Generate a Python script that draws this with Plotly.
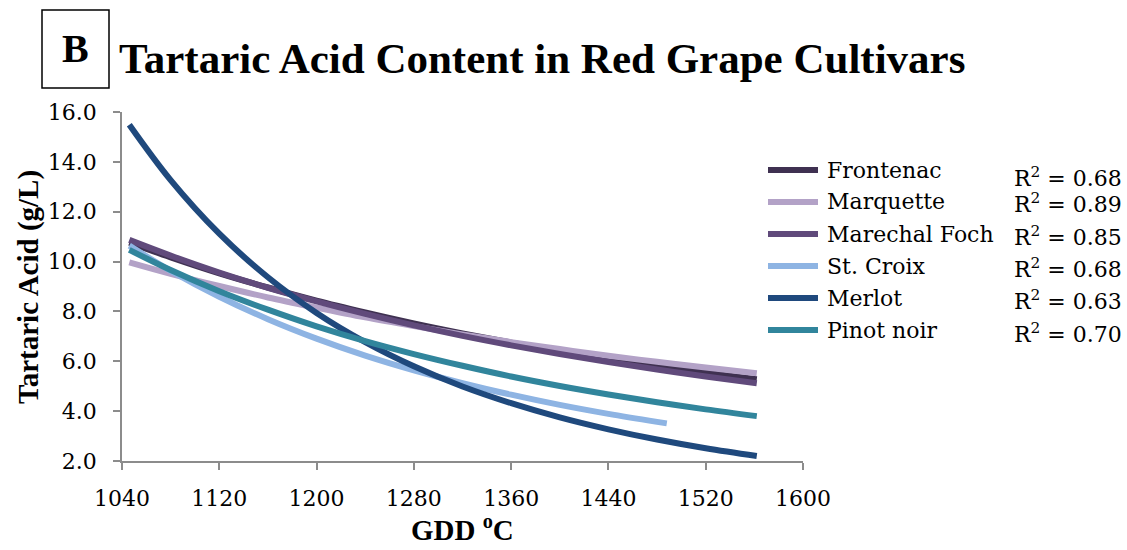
import plotly.graph_objects as go

# ---- data ----
gdd = [1046, 1080, 1120, 1160, 1200, 1240, 1280, 1320, 1360, 1400, 1440, 1480, 1520, 1562]
gdd_stcroix = [1046, 1080, 1120, 1160, 1200, 1240, 1280, 1320, 1360, 1400, 1440, 1480, 1488]

frontenac = [10.76, 10.17, 9.53, 8.96, 8.43, 7.96, 7.52, 7.12, 6.75, 6.41, 6.10, 5.81, 5.54, 5.28]
marquette = [9.97, 9.51, 9.02, 8.56, 8.15, 7.76, 7.41, 7.08, 6.77, 6.49, 6.22, 5.98, 5.75, 5.52]
marechal_foch = [10.87, 10.24, 9.56, 8.95, 8.40, 7.90, 7.44, 7.02, 6.64, 6.29, 5.97, 5.67, 5.39, 5.12]
st_croix = [10.64, 9.63, 8.59, 7.69, 6.91, 6.23, 5.64, 5.12, 4.66, 4.25, 3.89, 3.57, 3.51]
merlot = [15.49, 13.27, 11.12, 9.37, 7.94, 6.77, 5.80, 4.99, 4.32, 3.75, 3.27, 2.86, 2.51, 2.20]
pinot_noir = [10.47, 9.66, 8.81, 8.07, 7.40, 6.81, 6.29, 5.82, 5.39, 5.01, 4.67, 4.36, 4.07, 3.80]

names = ["Frontenac", "Marquette", "Marechal Foch", "St. Croix", "Merlot", "Pinot noir"]
r2_values = ["0.68", "0.89", "0.85", "0.68", "0.63", "0.70"]
y_ticks = [2, 4, 6, 8, 10, 12, 14, 16]
x_ticks = [1040, 1120, 1200, 1280, 1360, 1440, 1520, 1600]

series_x = [gdd, gdd, gdd, gdd_stcroix, gdd, gdd]
series_y = [frontenac, marquette, marechal_foch, st_croix, merlot, pinot_noir]
colors = ["#3F3151", "#B3A2C7", "#604A7B", "#8EB4E3", "#1F497D", "#31859C"]

# ---- layout geometry (pixels) ----
W, H = 1127, 550
L, R, T, B = 122, 324, 112, 89
PW, PH = W - L - R, H - T - B


def px(x):
    return (x - L) / PW


def py(y):
    return 1 - (y - T) / PH


fig = go.Figure()
for xs, ys, c, n in zip(series_x, series_y, colors, names):
    fig.add_trace(go.Scatter(x=xs, y=ys, mode="lines", name=n,
                             line=dict(color=c, width=6, shape="spline"),
                             showlegend=False))

tickfont = dict(family="DejaVu Serif", size=22, color="black")
axcol = "#8C8C8C"
fig.update_xaxes(range=[1040, 1600], tickvals=x_ticks, ticktext=[str(v) for v in x_ticks],
                 showline=True, linecolor=axcol, linewidth=1.5, ticks="outside",
                 ticklen=7, tickwidth=1.5, tickcolor=axcol, showgrid=False, zeroline=False,
                 tickfont=tickfont, ticklabelstandoff=10)
fig.update_yaxes(range=[2, 16], tickvals=y_ticks, ticktext=[f"{v:.1f}" for v in y_ticks],
                 showline=True, linecolor=axcol, linewidth=1.5, ticks="outside",
                 ticklen=7, tickwidth=1.5, tickcolor=axcol, showgrid=False, zeroline=False,
                 tickfont=tickfont, ticklabelstandoff=12)

ann = []
shapes = []
# title
ann.append(dict(text="<b>Tartaric Acid Content in Red Grape Cultivars</b>", x=px(117), y=py(58),
                xref="paper", yref="paper", xanchor="left", yanchor="middle", showarrow=False,
                font=dict(family="Liberation Serif", size=43, color="black")))
# panel letter box
shapes.append(dict(type="rect", xref="paper", yref="paper", x0=px(42), x1=px(109), y0=py(88), y1=py(10),
                   line=dict(color="black", width=1.5)))
ann.append(dict(text="<b>B</b>", x=px(75.5), y=py(49), xref="paper", yref="paper",
                xanchor="center", yanchor="middle", showarrow=False,
                font=dict(family="Liberation Serif", size=40, color="black")))
# axis titles
ann.append(dict(text="<b>Tartaric Acid (g/L)</b>", x=px(28), y=py(287), xref="paper", yref="paper",
                xanchor="center", yanchor="middle", showarrow=False, textangle=-90,
                font=dict(family="Liberation Serif", size=29, color="black")))
ann.append(dict(text="<b>GDD <sup>o</sup>C</b>", x=px(462), y=py(528), xref="paper", yref="paper",
                xanchor="center", yanchor="middle", showarrow=False,
                font=dict(family="Liberation Serif", size=29, color="black")))

# legend (manual) and R^2 values
leg_y = [170, 202, 234, 266, 298, 330]
r2_y = [177, 203, 236, 268, 300, 333]
for n, c, ly, r2, ry in zip(names, colors, leg_y, r2_values, r2_y):
    shapes.append(dict(type="line", xref="paper", yref="paper", x0=px(768), x1=px(818),
                       y0=py(ly), y1=py(ly), line=dict(color=c, width=6)))
    ann.append(dict(text=n, x=px(825), y=py(ly), xref="paper", yref="paper",
                    xanchor="left", yanchor="middle", showarrow=False,
                    font=dict(family="DejaVu Serif", size=22, color="black")))
    ann.append(dict(text=f"R<sup>2</sup> = {r2}", x=px(1012), y=py(ry), xref="paper", yref="paper",
                    xanchor="left", yanchor="middle", showarrow=False,
                    font=dict(family="DejaVu Serif", size=22, color="black")))

fig.update_layout(width=W, height=H, margin=dict(l=L, r=R, t=T, b=B),
                  paper_bgcolor="white", plot_bgcolor="white",
                  annotations=ann, shapes=shapes, showlegend=False)

fig.write_html("out.html")
